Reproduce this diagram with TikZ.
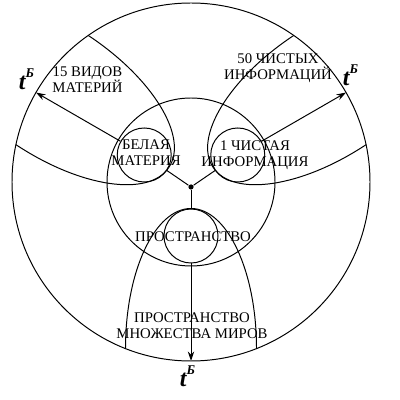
\documentclass[tikz,border=0pt]{standalone}
\usepackage{fontspec}
\setmainfont{Liberation Serif}
\usetikzlibrary{arrows.meta, calc}

\newcommand{\tb}{{\fontsize{17}{17}\selectfont\bfseries\itshape t}\raisebox{8.5pt}{\fontsize{9.5}{9.5}\selectfont\bfseries\itshape Б}}

\begin{document}
\begin{tikzpicture}[x=0.025cm, y=0.025cm, line width=0.7pt,
    % Small circles of the three origins
    part/.style={draw, circle, minimum size=1.35cm, inner sep=0pt},
    % Texts
    lbl/.style={font=\fontsize{10.5}{11.5}\selectfont, align=center, inner sep=0pt},
    tlbl/.style={inner sep=0pt},
    % Connectors
    arrow/.style={-{Stealth[length=2.4mm, width=1.6mm, inset=0.8mm]}},
    junction/.style={circle, fill, inner sep=0pt, minimum size=1.3mm}
]
\useasboundingbox (0,0) rectangle (400,400);

% Centre, outer and middle circles
\coordinate (c) at (191,218);
\draw (c) circle (179);
\draw (c) circle (84);

% Petals, cut by the outer circle
\begin{scope}
    \clip (c) circle (179);
    \foreach \a in {146.5, 33.5, 270} {
        \begin{scope}[shift={(c)}, rotate=\a]
            \draw (166.5,0) ellipse (140 and 65.5);
        \end{scope}
    }
\end{scope}

% Small circles
\node[part] (wm) at ($(c)+(150:54)$) {};
\node[part] (pi) at ($(c)+(30:54)$) {};
\node[part] (sp) at ($(c)+(270:54)$) {};

% Junction and its three branches
\node[junction] (j) at ($(c)+(0,-5)$) {};
\draw (j) -- (wm);
\draw (j) -- (pi);
\draw (j) -- (sp);

% Time axes up to the outer circle
\coordinate (twm) at ($(c)+(150:179)$);
\coordinate (tpi) at ($(c)+(30:179)$);
\coordinate (tsp) at ($(c)+(270:179)$);
\draw[arrow] (wm.150) -- (twm);
\draw[arrow] (pi.30) -- (tpi);
\draw[arrow] (sp.south) -- (tsp);

% Labels
\node[lbl] (kinds) at (87.5,320.5) {15 ВИДОВ\\МАТЕРИЙ};
\node[lbl] (infos) at (278,331.5) {50 ЧИСТЫХ\\ИНФОРМАЦИЙ};
\node[lbl] (wmtext) at (146,247.5) {БЕЛАЯ\\МАТЕРИЯ};
\node[lbl] (pitext) at (255,245) {1 ЧИСТАЯ\\ИНФОРМАЦИЯ};
\node[lbl] (sptext) at (193,163) {ПРОСТРАНСТВО};
\node[lbl] (worlds) at (192,74) {ПРОСТРАНСТВО\\МНОЖЕСТВА МИРОВ};

% t labels at the arrow tips
\node[tlbl] (t1) at (26.5,321) {\tb};
\node[tlbl] (t2) at (350.5,325) {\tb};
\node[tlbl] (t3) at (187.5,24) {\tb};

\end{tikzpicture}
\end{document}
